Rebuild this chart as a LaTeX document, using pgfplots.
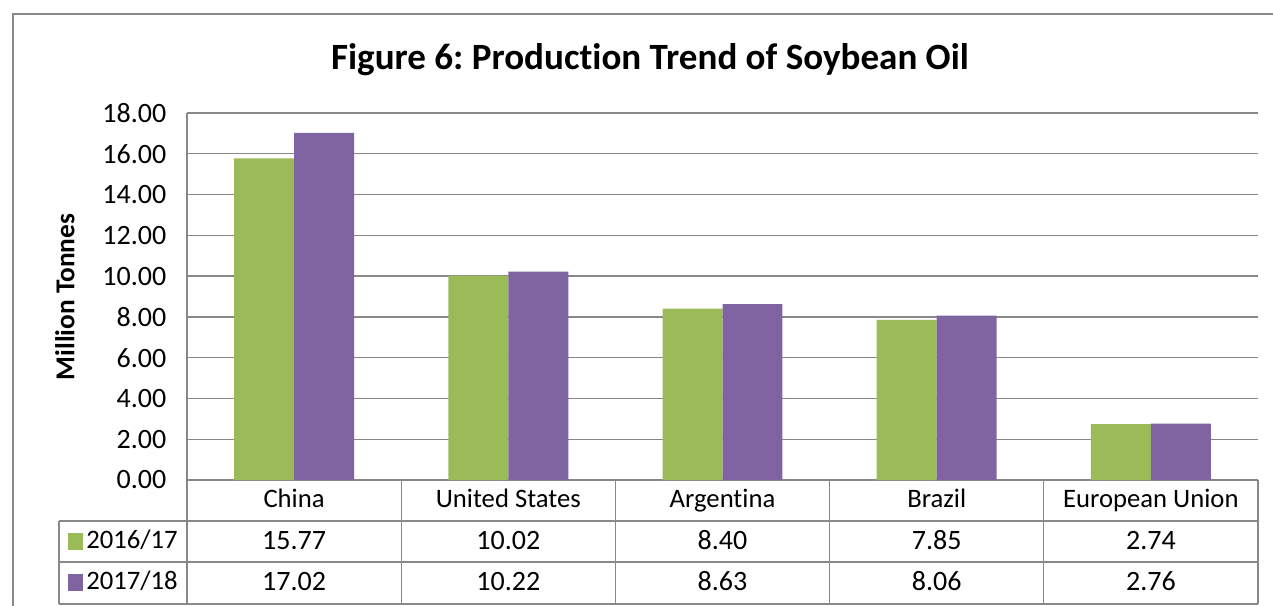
\documentclass[border=0pt]{standalone}
\usepackage{fontspec}
\setmainfont{Carlito}[Ligatures=NoCommon]
\usepackage{pgfplots}
\usepackage{pgfplotstable}
\pgfplotsset{compat=1.18}
\pgfkeys{/pgf/number format/assume math mode=true}
\frenchspacing

\definecolor{exgreen}{HTML}{9BBB59}
\definecolor{expurple}{HTML}{8064A2}
\definecolor{exgrid}{HTML}{888888}

% production, million tonnes
\pgfplotstableread{
x a b
0 15.77 17.02
1 10.02 10.22
2 8.40 8.63
3 7.85 8.06
4 2.74 2.76
}\soy

\newcommand{\numfont}{\fontsize{21}{24}\selectfont}
\newcommand{\txtfont}{\fontsize{20}{24}\selectfont}

\begin{document}
\begin{tikzpicture}
% pixel grid of the reference, 1px = 0.75pt
\begin{scope}[x=0.75pt,y=-0.75pt]
\path[use as bounding box] (0,0) rectangle (1273,606);
\draw[exgrid, line width=1.5pt] (13,606) -- (13,14) -- (1273,14);
\node[font=\bfseries\fontsize{27.8}{32}\selectfont] at (650,60) {Figure 6: Production Trend of Soybean Oil};
\node[rotate=90, font=\bfseries\fontsize{20.5}{24}\selectfont] at (65,297) {Million Tonnes};
\end{scope}

\begin{axis}[
    at={(140.25pt,-360pt)}, anchor=south west,
    width=803.25pt, height=275.25pt, scale only axis,
    xmin=-0.5, xmax=4.5, ymin=0, ymax=18,
    ytick={0,2,...,18},
    yticklabel style={/pgf/number format/fixed, /pgf/number format/fixed zerofill,
        /pgf/number format/precision=2, xshift=-12pt, font=\numfont},
    xtick={0,...,4},
    xticklabels={China,United States,Argentina,Brazil,European Union},
    major tick length=0,
    axis lines*=left,
    axis line style={exgrid, line width=1pt, -},
    ymajorgrids, grid style={exgrid, line width=1pt},
    clip=false,
    xticklabel style={font=\txtfont, anchor=center, yshift=-18.4pt, text height=0.65em, text depth=0.2em},
]
\addplot[ybar, bar width=0.28, bar shift=-0.14, fill=exgreen, draw=none] table[x=x,y=a]{\soy};
\addplot[ybar, bar width=0.28, bar shift=0.14, fill=expurple, draw=none] table[x=x,y=b]{\soy};

% data table rows
\addplot[draw=none, mark=none, point meta=\thisrow{a}, y filter/.expression={-3.24},
    nodes near coords={\pgfmathprintnumber[fixed,fixed zerofill,precision=2]{\pgfplotspointmeta}},
    nodes near coords style={anchor=center, font=\numfont, text height=0.65em, text depth=0.2em}]
    table[x=x,y=a]{\soy};
\addplot[draw=none, mark=none, point meta=\thisrow{b}, y filter/.expression={-5.25},
    nodes near coords={\pgfmathprintnumber[fixed,fixed zerofill,precision=2]{\pgfplotspointmeta}},
    nodes near coords style={anchor=center, font=\numfont, text height=0.65em, text depth=0.2em}]
    table[x=x,y=b]{\soy};
\end{axis}

\begin{scope}[x=0.75pt,y=-0.75pt]
\draw[exgrid, line width=1pt]
    (59,521) -- (1258,521) (59,562) -- (1258,562) (59,604) -- (1258,604)
    (59,521) -- (59,604) (187,480) -- (187,604)
    (401.2,480) -- (401.2,604) (615.4,480) -- (615.4,604)
    (829.6,480) -- (829.6,604) (1043.8,480) -- (1043.8,604)
    (1258,480) -- (1258,604);
\fill[exgreen] (68,533) rectangle (83,550);
\fill[expurple] (68,574) rectangle (83,591);
\node[anchor=west, inner sep=0pt, font=\txtfont, text height=0.65em, text depth=0.2em] at (86,545) {2016/17};
\node[anchor=west, inner sep=0pt, font=\txtfont, text height=0.65em, text depth=0.2em] at (86,586) {2017/18};
\end{scope}
\end{tikzpicture}
\end{document}
